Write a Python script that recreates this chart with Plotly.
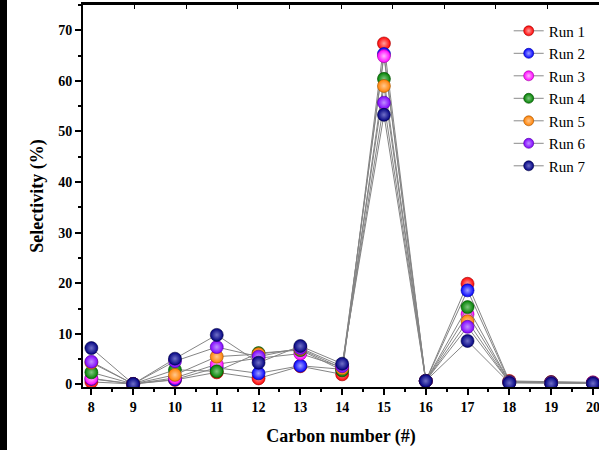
import plotly.graph_objects as go

# Selectivity (%) by carbon number for seven runs
carbon = [8, 9, 10, 11, 12, 13, 14, 15, 16, 17, 18, 19, 20]
run1 = [0.5, 0.1, 0.9, 2.4, 1.2, 3.6, 2.0, 67.4, 0.7, 19.9, 0.7, 0.5, 0.4]
run2 = [1.1, 0.1, 1.0, 3.3, 2.2, 3.7, 3.0, 65.3, 0.7, 18.6, 0.5, 0.4, 0.3]
run3 = [1.2, 0.1, 1.3, 4.0, 5.2, 6.1, 3.4, 64.9, 0.7, 13.9, 0.5, 0.4, 0.4]
run4 = [2.4, 0.1, 2.9, 2.6, 6.2, 6.8, 2.8, 60.4, 0.7, 15.3, 0.5, 0.4, 0.3]
run5 = [4.3, 0.1, 1.9, 5.5, 6.0, 7.0, 3.2, 59.0, 0.7, 12.5, 0.4, 0.3, 0.3]
run6 = [4.5, 0.1, 4.6, 7.4, 5.5, 7.2, 3.6, 55.7, 0.7, 11.4, 0.4, 0.3, 0.3]
run7 = [7.2, 0.1, 5.1, 9.8, 4.3, 7.6, 4.1, 53.3, 0.7, 8.6, 0.3, 0.2, 0.2]

run_names = ["Run 1", "Run 2", "Run 3", "Run 4", "Run 5", "Run 6", "Run 7"]
run_values = [run1, run2, run3, run4, run5, run6, run7]
run_colors = ["#FF0000", "#0000FF", "#FF00FF", "#008000", "#FF8000", "#8000FF", "#000080"]
run_highlights = ["#FFA0A0", "#A0A0FF", "#FFB8FF", "#80C880", "#FFC890", "#C090FF", "#7070C8"]
run_edges = ["#A00000", "#0000A0", "#A000A0", "#004800", "#A05000", "#5000A0", "#000040"]

SERIF = "Liberation Serif, Times New Roman, serif"

fig = go.Figure()
for name, vals, col, hi, edge in zip(run_names, run_values, run_colors, run_highlights, run_edges):
    ball = dict(color=col, gradient=dict(type="radial", color=hi),
                line=dict(color=edge, width=0.6))
    fig.add_trace(go.Scatter(
        x=carbon, y=vals, name=name, mode="lines+markers", showlegend=False,
        line=dict(color="#858585", width=1),
        marker=dict(size=13, **ball),
    ))
    # legend entry with a smaller ball
    fig.add_trace(go.Scatter(
        x=[None], y=[None], name=name, mode="lines+markers",
        line=dict(color="#8a8a8a", width=1),
        marker=dict(size=10, **ball),
    ))

# invisible trace that carries the top frame axis
fig.add_trace(go.Scatter(x=[0], y=[None], xaxis="x2", showlegend=False,
                         hoverinfo="skip", mode="markers"))

fig.update_layout(
    width=599, height=450,
    margin=dict(l=83, r=0, t=5, b=63),
    paper_bgcolor="white", plot_bgcolor="white",
    font=dict(family=SERIF, color="black"),
    xaxis=dict(
        range=[7.8, 20.145], tickmode="linear", tick0=8, dtick=1,
        ticks="outside", ticklen=6, tickwidth=2, tickcolor="black",
        minor=dict(ticks="outside", ticklen=3, tickwidth=1.5, dtick=0.5, tick0=8, tickcolor="black"),
        showline=True, linewidth=2, linecolor="black",
        showgrid=False, zeroline=False, ticklabeloverflow="allow",
        tickfont=dict(family=SERIF, size=14, color="black", weight="bold"),
        title=dict(text="<b>Carbon number (#)</b>", font=dict(family=SERIF, size=18), standoff=16),
    ),
    xaxis2=dict(
        overlaying="x", side="top", range=[0, 10], tickmode="linear", tick0=0, dtick=1,
        ticks="inside", ticklen=4, tickwidth=1, tickcolor="black",
        showticklabels=False, showline=True, linewidth=2.5, linecolor="black",
        showgrid=False, zeroline=False,
    ),
    yaxis=dict(
        range=[-0.5, 75], tickmode="linear", tick0=0, dtick=10,
        ticks="outside", ticklen=6, tickwidth=2, tickcolor="black",
        minor=dict(ticks="outside", ticklen=3, tickwidth=1.5, dtick=5, tick0=0, tickcolor="black"),
        showline=True, linewidth=2, linecolor="black",
        showgrid=False, zeroline=False,
        tickfont=dict(family=SERIF, size=14, color="black", weight="bold"),
        title=dict(text="<b>Selectivity (%)</b>", font=dict(family=SERIF, size=18), standoff=10),
    ),
    legend=dict(
        x=0.825, y=0.975, xanchor="left", yanchor="top",
        bgcolor="rgba(0,0,0,0)", borderwidth=0,
        font=dict(family=SERIF, size=15, color="black"),
        tracegroupgap=0,
    ),
    shapes=[dict(type="rect", xref="paper", yref="paper",
                 x0=-83 / 516, x1=-76 / 516, y0=-63 / 382, y1=1 + 5 / 382,
                 fillcolor="black", line=dict(width=0), layer="above")],
)

fig.write_html("out.html")
